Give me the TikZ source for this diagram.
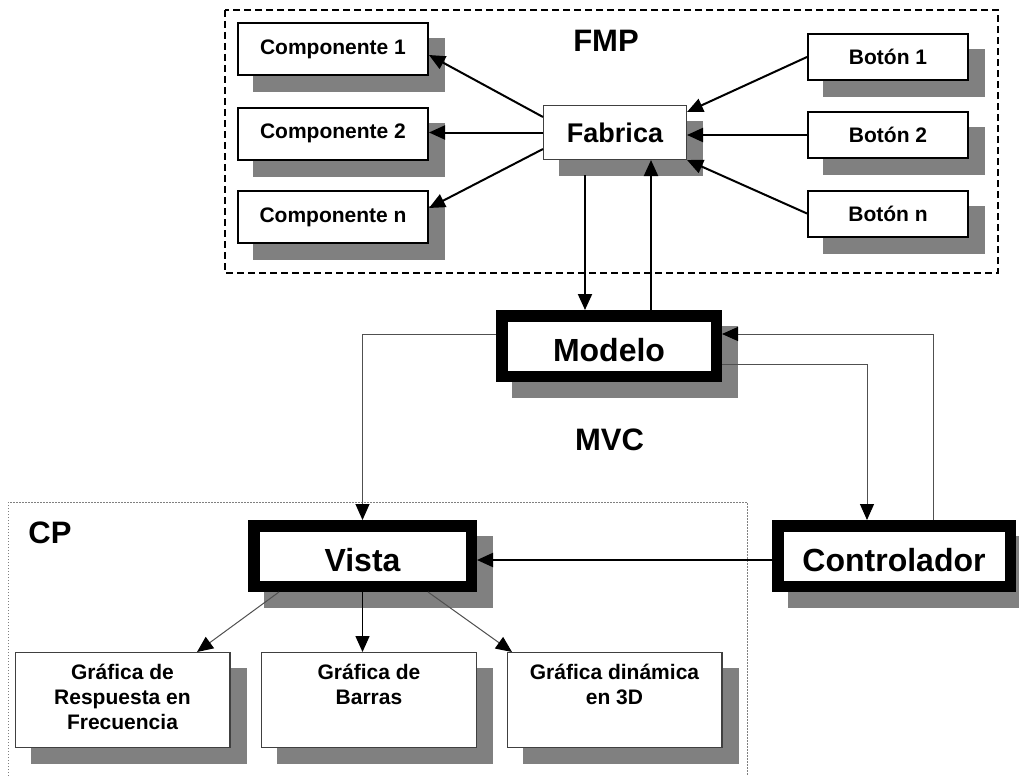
\documentclass[tikz,border=0pt]{standalone}
\usepackage{fontspec}
\setmainfont{Liberation Sans}
\usetikzlibrary{arrows.meta}
\pgfdeclarelayer{shadowlayer}
\pgfsetlayers{shadowlayer,main}
\definecolor{shadowgray}{HTML}{808080}
\definecolor{rimgray}{HTML}{404040}
\definecolor{wiregray}{HTML}{505050}

\tikzset{
  tip/.style={-{Triangle[length=16pt,width=14pt,color=black]}},
  strong/.style={draw=black, line width=2pt, tip},
  medium/.style={draw=black, line width=1.5pt, tip},
  faint/.style={draw=wiregray, line width=1pt, tip},
  smallbox/.style={draw=black, line width=2pt, fill=white, inner sep=0pt,
    minimum width=190pt, minimum height=52pt,
    font=\fontsize{21}{25}\selectfont\bfseries},
  btnbox/.style={smallbox, minimum width=160pt, minimum height=46pt},
  fabbox/.style={draw=rimgray, line width=1pt, fill=white, inner sep=0pt,
    minimum width=143pt, minimum height=54pt,
    font=\fontsize{27}{30}\selectfont\bfseries},
  heavybox/.style={draw=black, line width=11.5pt, fill=white, inner sep=0pt,
    minimum height=60.5pt, text height=30pt, text depth=0pt,
    font=\fontsize{32}{36}\selectfont\bfseries},
  graphbox/.style={draw=rimgray, line width=1.3pt, fill=white, inner sep=0pt,
    minimum width=214.7pt, minimum height=94.7pt},
  graphtext/.style={anchor=north, align=center, inner sep=0pt,
    font=\fontsize{21}{25}\selectfont\bfseries},
  grouptitle/.style={inner sep=0pt, font=\fontsize{31}{34}\selectfont\bfseries},
  fmpframe/.style={draw=black, line width=1.4pt, dash pattern=on 7pt off 4pt},
  cpframe/.style={draw=gray, line width=1pt, dash pattern=on 1.5pt off 1.5pt},
  boxshadow/.style={fill=shadowgray},
}

\begin{document}
\begin{tikzpicture}[x=1pt,y=-1pt]
\useasboundingbox (0,0) rectangle (1019,776);

% group frames
\draw[fmpframe] (225,10) rectangle (998,273);
\draw[cpframe] (8,776) -- (8,502) -- (747,502) -- (747,776);

% FMP part
\node[smallbox] (c1) at (333,49) {Componente 1};
\node[smallbox] (c2) at (333,133.5) {Componente 2};
\node[smallbox] (cn) at (333,217) {Componente n};
\node[fabbox] (fab) at (615,132.5) {Fabrica};
\node[btnbox] (b1) at (888,57) {Botón 1};
\node[btnbox] (b2) at (888,135) {Botón 2};
\node[btnbox] (bn) at (888,213.5) {Botón n};
\node[grouptitle] (fmp) at (606,41) {FMP};

% MVC part
\node[heavybox, minimum width=214.5pt] (mod) at (609,346) {Modelo};
\node[grouptitle] (mvc) at (609.5,440) {MVC};
\node[heavybox, minimum width=217.5pt] (vis) at (362.5,556) {Vista};
\node[heavybox, minimum width=232.5pt] (ctl) at (894,556) {Controlador};

% CP part
\node[grouptitle] (cp) at (50,532.5) {CP};
\node[graphbox] (g1) at (122.5,700) {};
\node[graphbox] (g2) at (369,700) {};
\node[graphbox] (g3) at (614.5,700) {};
\node[graphtext] (g1t) at ([shift={(0,11.5)}]g1.north) {Gráfica de\\Respuesta en\\Frecuencia};
\node[graphtext] (g2t) at ([shift={(0,11.5)}]g2.north) {Gráfica de\\Barras};
\node[graphtext] (g3t) at ([shift={(0,11.5)}]g3.north) {Gráfica dinámica\\en 3D};

% drop shadows behind every box
\begin{pgfonlayer}{shadowlayer}
  \foreach \n in {c1,c2,cn,fab,b1,b2,bn,mod,vis,ctl,g1,g2,g3}
    \fill[boxshadow] ([shift={(16,16)}]\n.north west) rectangle ([shift={(16,16)}]\n.south east);
\end{pgfonlayer}

% factory connections
\draw[strong] ([shift={(0,-15.5)}]fab.west) -- ([shift={(0,6)}]c1.east);
\draw[strong] (fab.west) -- (fab.west -| c2.east);
\draw[strong] ([shift={(0,16.5)}]fab.west) -- ([shift={(0,-9)}]cn.east);
\draw[strong] (b1.west) -- ([shift={(0,-20.5)}]fab.east);
\draw[strong] (b2.west) -- (b2.west -| fab.east);
\draw[strong] (bn.west) -- (fab.south east);
\coordinate (fabdown) at ([shift={(-30,15)}]fab.south);
\coordinate (fabup) at ([shift={(36,0)}]fab.south);
\draw[strong] (fabdown) -- (fabdown |- mod.north);
\draw[strong] (fabup |- mod.north) -- (fabup);

% model-view-controller connections
\draw[faint] ([shift={(0,-12)}]mod.west) -| (vis.north);
\draw[faint] ([shift={(0,18)}]mod.east) -| ([shift={(-27,0)}]ctl.north);
\draw[faint] ([shift={(39,0)}]ctl.north) |- ([shift={(0,-12)}]mod.east);
\draw[strong] ([shift={(0,4)}]ctl.west) -- ([shift={(0,4)}]vis.east);

% view to its charts
\draw[faint] ([shift={(-83.5,0)}]vis.south) -- ([shift={(74.5,0)}]g1.north);
\draw[medium] (vis.south) -- (vis.south |- g2.north);
\draw[faint] ([shift={(65.5,0)}]vis.south) -- ([shift={(-102.5,0)}]g3.north);
\end{tikzpicture}
\end{document}
